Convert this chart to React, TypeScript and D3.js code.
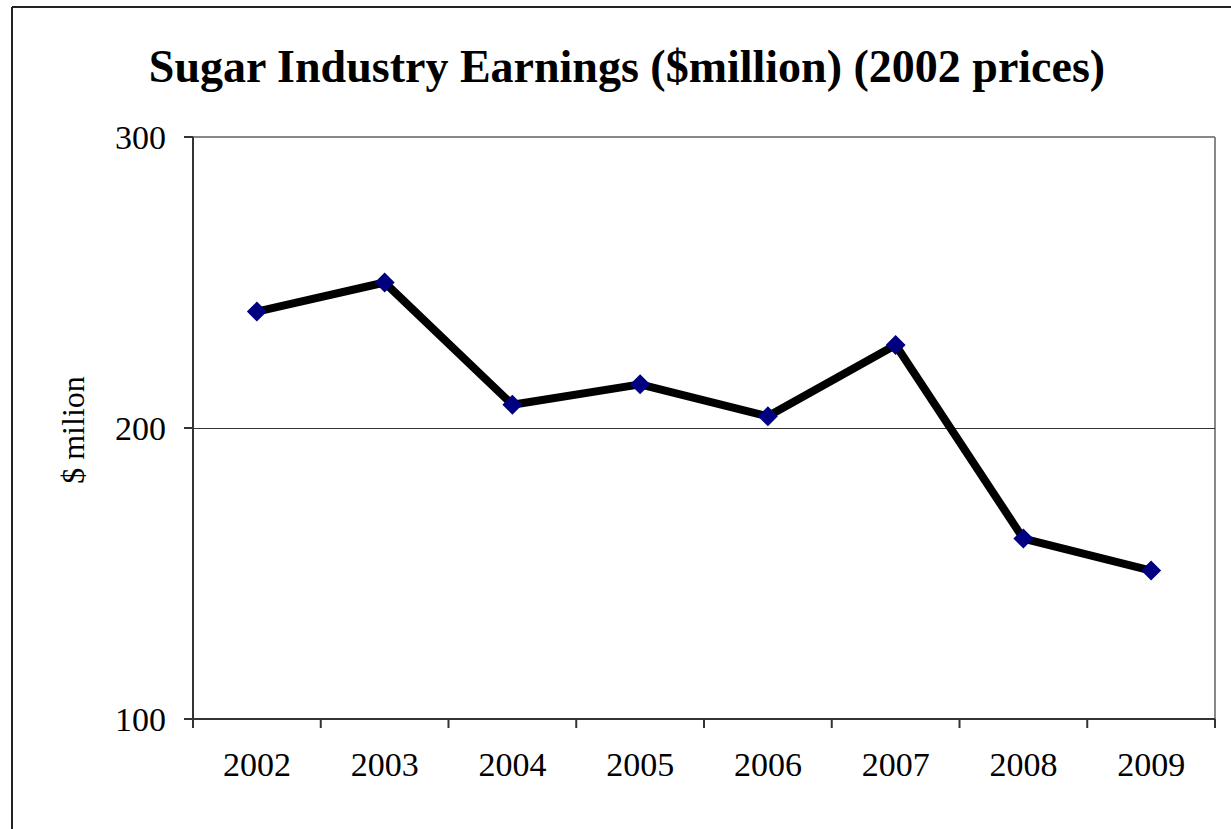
import React from "react";
import * as d3 from "d3";

const years = ["2002", "2003", "2004", "2005", "2006", "2007", "2008", "2009"];
const earnings = [240, 250, 208, 215, 204, 228.5, 162, 151];
const yTicks = [100, 200, 300];

const W = 1231;
const H = 829;
const margin = { left: 193, right: 1215, top: 137, bottom: 719 };

export default function App() {
  const x = d3.scaleBand().domain(years).range([margin.left, margin.right]);
  const y = d3.scaleLinear().domain([100, 300]).range([margin.bottom, margin.top]);
  const line = d3
    .line<number>()
    .x((_, i) => (x(years[i]) as number) + x.bandwidth() / 2)
    .y((d) => y(d));
  const font = "'Liberation Serif', 'Times New Roman', serif";
  const bandEdges = years.map((yr) => x(yr) as number).concat([margin.right]);

  return (
    <svg
      width={W}
      height={H}
      style={{ position: "absolute", left: 0, top: 0, background: "#fff" }}
      fontFamily={font}
    >
      <rect x={0} y={0} width={W} height={H} fill="#fff" />
      {/* outer frame */}
      <line x1={12} y1={7} x2={W} y2={7} stroke="#222" strokeWidth={2} />
      <line x1={12} y1={7} x2={12} y2={H} stroke="#222" strokeWidth={2} />

      <text
        x={627}
        y={82}
        textAnchor="middle"
        fontSize={46}
        fontWeight="bold"
        fill="#000"
      >
        Sugar Industry Earnings ($million) (2002 prices)
      </text>

      {/* plot area border */}
      <line x1={margin.left} y1={margin.top} x2={margin.right} y2={margin.top} stroke="#888" strokeWidth={2} />
      <line x1={margin.right} y1={margin.top} x2={margin.right} y2={margin.bottom} stroke="#888" strokeWidth={2} />

      {/* gridline */}
      {yTicks
        .filter((t) => t !== 100 && t !== 300)
        .map((t) => (
          <line key={t} x1={margin.left} x2={margin.right} y1={y(t) + 0.5} y2={y(t) + 0.5} stroke="#333" strokeWidth={1} />
        ))}

      {/* axes */}
      <line x1={margin.left} y1={margin.top} x2={margin.left} y2={margin.bottom} stroke="#333" strokeWidth={2} />
      <line x1={margin.left} y1={margin.bottom} x2={margin.right} y2={margin.bottom} stroke="#333" strokeWidth={2} />
      {yTicks.map((t) => (
        <g key={t}>
          <line x1={184} x2={margin.left} y1={y(t)} y2={y(t)} stroke="#333" strokeWidth={2} />
          <text x={166} y={y(t)} dy="0.35em" textAnchor="end" fontSize={34} fill="#000">
            {t}
          </text>
        </g>
      ))}
      {bandEdges.map((e, i) => (
        <line key={i} x1={e} x2={e} y1={margin.bottom} y2={728} stroke="#333" strokeWidth={2} />
      ))}
      {years.map((yr) => (
        <text
          key={yr}
          x={(x(yr) as number) + x.bandwidth() / 2}
          y={776}
          textAnchor="middle"
          fontSize={34}
          fill="#000"
        >
          {yr}
        </text>
      ))}

      <text
        transform={`translate(84, 430) rotate(-90)`}
        textAnchor="middle"
        fontSize={32}
        fill="#000"
      >
        $ milion
      </text>

      <path d={line(earnings) || ""} fill="none" stroke="#000" strokeWidth={8} strokeLinejoin="round" />
      {earnings.map((v, i) => {
        const cx = (x(years[i]) as number) + x.bandwidth() / 2;
        const cy = y(v);
        return (
          <path
            key={i}
            d={`M${cx},${cy - 10}L${cx + 10},${cy}L${cx},${cy + 10}L${cx - 10},${cy}Z`}
            fill="#000080"
          />
        );
      })}
    </svg>
  );
}
